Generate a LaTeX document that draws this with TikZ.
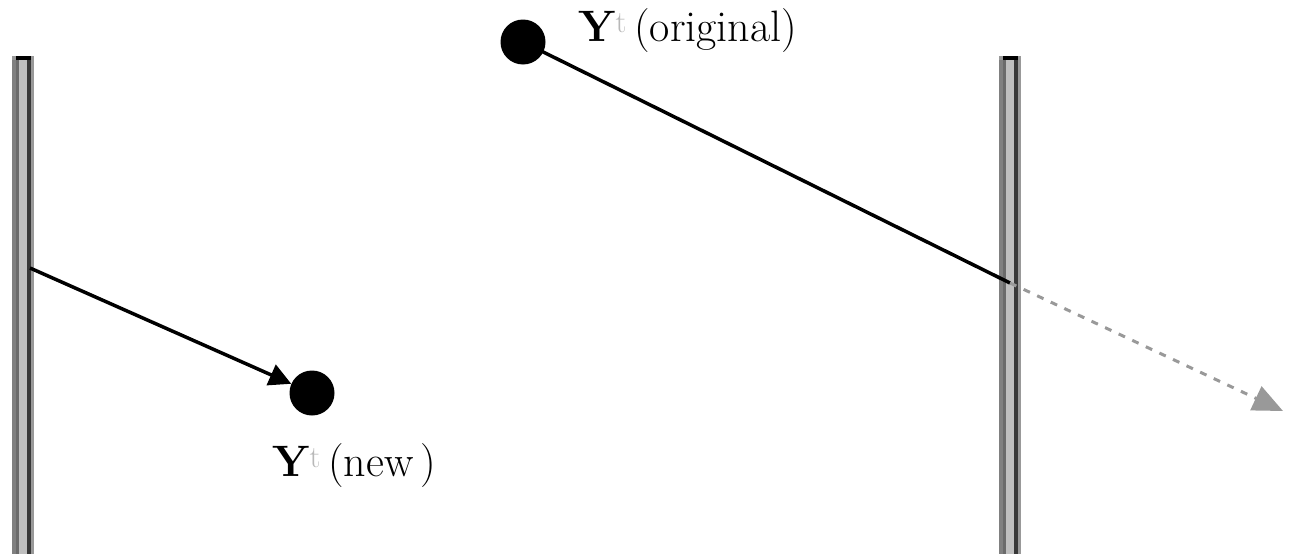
\documentclass[tikz,border=0pt]{standalone}
\usetikzlibrary{arrows.meta}
\definecolor{wallouterL}{gray}{0.5}
\definecolor{wallinnerL}{gray}{0.42}
\definecolor{wallinnerR}{gray}{0.22}
\definecolor{wallouterR}{gray}{0.6}
\definecolor{wallfill}{gray}{0.75}
\definecolor{arrowgray}{gray}{0.6}
\definecolor{supgray}{gray}{0.72}
\tikzset{
  wall/.style={draw=none, fill=wallouterR, minimum width=22pt, minimum height=498pt, inner sep=0pt, anchor=north},
  dot/.style={circle, fill=black, minimum size=45pt, inner sep=0pt},
  ray/.style={line width=3.5pt, black},
  lbl/.style={font=\fontsize{44}{50}\selectfont, inner sep=0pt}
}
\newcommand{\ylab}{\textbf{Y}\textsuperscript{\textcolor{supgray}{t}}}
\begin{document}
\begin{tikzpicture}[x=1pt,y=-1pt]
\useasboundingbox (0,0) rectangle (1292,554);
% walls
\foreach \n/\x in {lw/23, rw/1010}{
  \node[wall] (\n) at (\x,56) {};
  \fill[wallouterL] (\x-11,60) rectangle (\x-7,554);
  \fill[wallinnerL] (\x-7,60) rectangle (\x-4,554);
  \fill[wallfill] (\x-4,60) rectangle (\x+4,554);
  \fill[wallinnerR] (\x+4,60) rectangle (\x+8,554);
  \fill[black] (\x-7,56) rectangle (\x+8,60);
}
% points
\node[dot] (orig) at (523,42) {};
\node[dot] (new) at (312,393) {};
\node[lbl, anchor=west] (lorig) at (578,31) {\ylab\,(original)};
\node[lbl, anchor=west] (lnew) at (272,466) {\ylab\,(new\,)};
\coordinate (hitL) at (30,268);
\coordinate (hitR) at (1010,283);
\coordinate (far) at (1283,411);
% rays
\draw[ray] (orig.center) -- (hitR);
\draw[line width=3pt, arrowgray, dash pattern=on 7pt off 8pt, -{Triangle[length=30pt,width=26pt]}] (hitR) -- (far);
\draw[ray, -{Triangle[length=22pt,width=22pt]}] (hitL) -- (new);
\end{tikzpicture}
\end{document}
